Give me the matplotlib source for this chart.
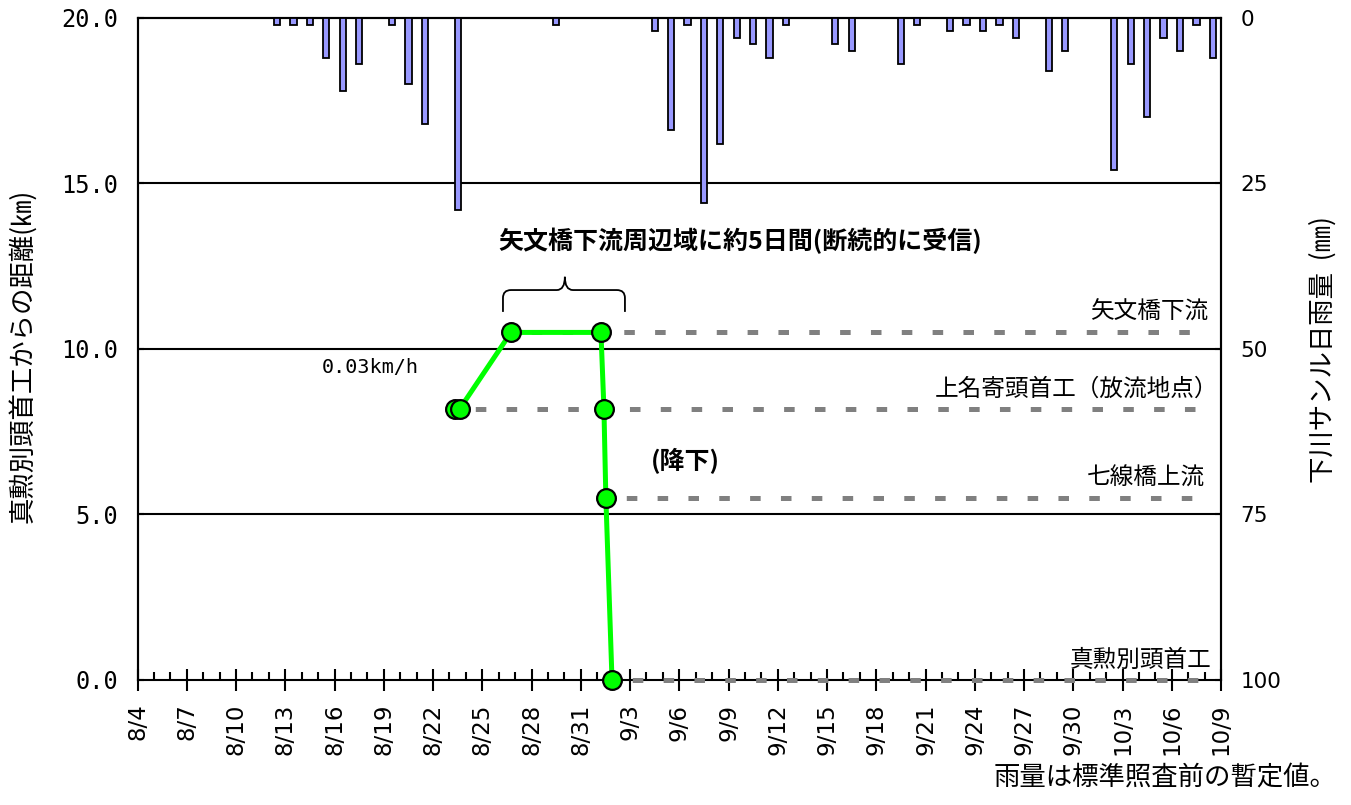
"""
Fish tracking record vs. daily rainfall (Shimokawa Sanru)
Output: out.png
"""

import numpy as np
import pandas as pd
import matplotlib
matplotlib.use("Agg")
import matplotlib.pyplot as plt
from matplotlib.path import Path
from matplotlib.patches import PathPatch

plt.rcParams["font.family"] = ["Noto Sans CJK JP", "DejaVu Sans"]
plt.rcParams["lines.scale_dashes"] = False

START = pd.Timestamp("2016-08-04")
N_DAYS = 66

# ── data ──────────────────────────────────────────────────────────────────────
tick_labels = ["8/4", "8/7", "8/10", "8/13", "8/16", "8/19", "8/22", "8/25",
               "8/28", "8/31", "9/3", "9/6", "9/9", "9/12", "9/15", "9/18",
               "9/21", "9/24", "9/27", "9/30", "10/3", "10/6", "10/9"]

rain_dates = ["8/12", "8/13", "8/14", "8/15", "8/16", "8/17", "8/19", "8/20",
              "8/21", "8/23", "8/29", "9/4", "9/5", "9/6", "9/7", "9/8",
              "9/9", "9/10", "9/11", "9/12", "9/15", "9/16", "9/19", "9/20",
              "9/22", "9/23", "9/24", "9/25", "9/26", "9/28", "9/29", "10/2",
              "10/3", "10/4", "10/5", "10/6", "10/7", "10/8"]
rain_mm = [1, 1, 1, 6, 11, 7, 1, 10,
           16, 29, 1, 2, 17, 1, 28, 19,
           3, 4, 6, 1, 4, 5, 7, 1,
           2, 1, 2, 1, 3, 8, 5, 23,
           7, 15, 3, 5, 1, 6]

track_time = ["8/23 08:10", "8/23 15:20", "8/26 18:00", "9/1 05:30",
              "9/1 09:50", "9/1 12:40", "9/1 21:40"]
track_km = [8.2, 8.2, 10.5, 10.5, 8.2, 5.5, 0.0]

station_names = ["矢文橋下流", "上名寄頭首工（放流地点）", "七線橋上流", "真勲別頭首工"]
station_km = [10.5, 8.2, 5.5, 0.0]
station_from = ["8/26 18:00", "8/23 08:10", "9/1 12:40", "9/1 21:40"]
station_to = "10/8 02:00"


def day_offset(labels):
    ts = pd.to_datetime(["2016/" + s for s in labels], format="mixed")
    return np.asarray((ts - START) / pd.Timedelta(days=1), dtype=float)


rain_x = day_offset(rain_dates) + 0.5
track_x = day_offset(track_time)
st_x0 = day_offset(station_from)
st_x1 = day_offset([station_to])[0]

# ── figure ────────────────────────────────────────────────────────────────────
fig = plt.figure(figsize=(13.51, 8.05), dpi=100)
ax = fig.add_axes([0.1018, 0.1553, 0.8020, 0.8224])
ax2 = ax.twinx()
ax2.spines["bottom"].set_visible(False)

ax.set_xlim(0, N_DAYS)
ax.set_ylim(0, 20)
for y in [5, 10, 15]:
    ax.axhline(y, color="black", lw=1.5, zorder=1)

# stations (grey dashed)
label_x = [65.2, 65.8, 65.0, 65.4]
for name, km, x0, lx in zip(station_names, station_km, st_x0, label_x):
    ax.plot([x0, st_x1], [km, km], color="#808080", lw=3.6,
            linestyle=(7.6, (7.6, 14.6)), dash_capstyle="butt",
            zorder=2.6, clip_on=False)
    ax.text(lx, km + 0.6, name, ha="right", va="center", fontsize=17)

# tracking line
ax.plot(track_x, track_km, color="#00FF00", lw=3.6, zorder=3)
ax.plot(track_x, track_km, "o", ms=13.5, mfc="#00FF00", mec="black",
        mew=1.6, zorder=4, clip_on=False)

# rain bars on inverted secondary axis
ax2.bar(rain_x, rain_mm, width=0.38, color="#9999FF", edgecolor="black",
        linewidth=1.3, zorder=3)
ax2.set_ylim(100, 0)
ax2.set_yticks([0, 25, 50, 75, 100])

# ticks
ax.set_xticks(np.arange(0, N_DAYS + 1, 3))
ax.set_xticklabels(tick_labels, rotation=90, fontsize=16.5,
                   family="DejaVu Sans")
ax.set_xticks(np.arange(0, N_DAYS + 1), minor=True)
ax.tick_params(axis="x", which="major", direction="inout", length=16,
               width=1.5, pad=9)
ax.tick_params(axis="x", which="minor", direction="in", length=6, width=1.5)
ax.set_yticks([0, 5, 10, 15, 20])
ax.set_yticklabels([f"{v:.1f}" for v in [0, 5, 10, 15, 20]],
                   family="DejaVu Sans Mono", fontsize=17)
ax.tick_params(axis="y", direction="in", length=4, width=1.5, pad=14)
ax2.tick_params(axis="y", direction="in", length=4, width=1.5, pad=14,
                labelsize=15.5)
for lab in ax2.get_yticklabels():
    lab.set_family("DejaVu Sans")
for a in (ax, ax2):
    for sp in a.spines.values():
        sp.set_linewidth(1.5)

# brace over the stay at 矢文橋
bx0, bx1, bxc = 22.26, 29.69, 26.03
by_b, by_m, by_t = 11.12, 11.78, 12.18
rx, ry = 0.49, 0.24
verts = [(bx0, by_b), (bx0, by_m - ry), (bx0, by_m), (bx0 + rx, by_m),
         (bxc - rx, by_m), (bxc, by_m), (bxc, by_t),
         (bxc, by_m), (bxc + rx, by_m), (bx1 - rx, by_m),
         (bx1, by_m), (bx1, by_m - ry), (bx1, by_b)]
codes = [Path.MOVETO, Path.LINETO, Path.CURVE3, Path.CURVE3,
         Path.LINETO, Path.CURVE3, Path.CURVE3,
         Path.CURVE3, Path.CURVE3, Path.LINETO,
         Path.CURVE3, Path.CURVE3, Path.LINETO]
ax.add_patch(PathPatch(Path(verts, codes), fc="none", ec="black", lw=1.3))

ax.text(36.7, 13.26, "矢文橋下流周辺域に約5日間(断続的に受信)", ha="center",
        va="center", fontsize=18, fontweight="bold")
ax.text(14.18, 9.43, "0.03km/h", ha="center", va="center", fontsize=14.5,
        family="DejaVu Sans Mono")
ax.text(33.4, 6.62, "(降下)", ha="center", va="center", fontsize=18,
        fontweight="bold")

fig.text(22 / 1351, 1 - 356 / 805, "真勲別頭首工からの距離(㎞)", rotation=90,
         ha="center", va="center", fontsize=19)
fig.text(1323 / 1351, 1 - 350 / 805, "下川サンル日雨量  (㎜)", rotation=90,
         ha="center", va="center", fontsize=19)
fig.text(1336 / 1351, 1 - 778 / 805, "雨量は標準照査前の暫定値。", ha="right",
         va="center", fontsize=19)

fig.savefig("out.png", dpi=100)
